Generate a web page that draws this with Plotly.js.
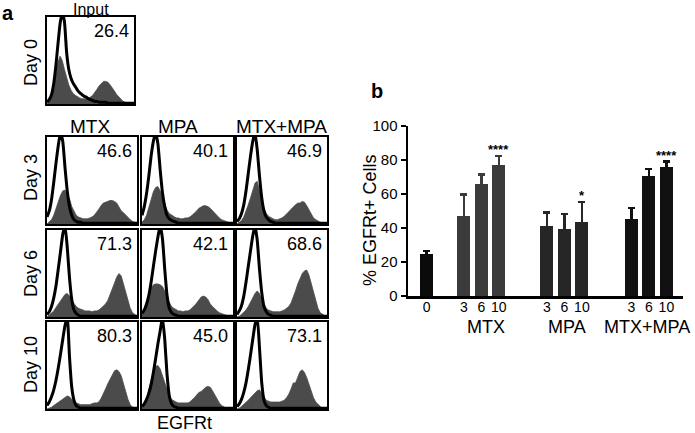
<!DOCTYPE html>
<html>
<head>
<meta charset="utf-8">
<script src="https://cdn.plot.ly/plotly-3.0.1.min.js"></script>
<style>html,body{margin:0;padding:0;background:#fff;}#chart{width:695px;height:433px;}</style>
</head>
<body>
<div id="chart"></div>
<script>
// ---------- Panel a: flow histograms (bin index 0..40 across EGFRt axis) ----------
var bins = [0,1,2,3,4,5,6,7,8,9,10,11,12,13,14,15,16,17,18,19,20,21,22,23,24,25,26,27,28,29,30,31,32,33,34,35,36,37,38,39,40];

var fillInput = [0,0.03,0.08,0.18,0.33,0.48,0.55,0.5,0.4,0.3,0.22,0.16,0.12,0.1,0.08,0.07,0.06,0.06,0.06,0.07,0.08,0.1,0.13,0.17,0.21,0.24,0.26,0.26,0.25,0.22,0.19,0.15,0.11,0.08,0.05,0.03,0.02,0.01,0,0,0];
var lineInput = [0.02,0.05,0.1,0.22,0.42,0.68,0.92,1.05,0.95,0.6,0.4,0.3,0.24,0.2,0.16,0.13,0.11,0.09,0.08,0.06,0.05,0.04,0.03,0.03,0.02,0.02,0.02,0.02,0.01,0.01,0.01,0.01,0.01,0.01,0.01,0.01,0.01,0.01,0.01,0.01,0.01];

var fillD3MTX = [0,0.02,0.05,0.1,0.18,0.26,0.33,0.38,0.39,0.35,0.29,0.2,0.14,0.1,0.08,0.07,0.06,0.06,0.06,0.07,0.08,0.1,0.13,0.17,0.21,0.24,0.25,0.26,0.27,0.27,0.26,0.24,0.2,0.15,0.13,0.1,0.07,0.05,0.03,0.02,0.01];
var lineD3MTX = [0.08,0.15,0.28,0.48,0.7,0.9,1.05,0.95,0.65,0.38,0.2,0.1,0.05,0.03,0.02,0.02,0.01,0.01,0.01,0.01,0.01,0.01,0.01,0.01,0.01,0.01,0.01,0.01,0.01,0.01,0.01,0.01,0.01,0.01,0.01,0.01,0.01,0.01,0.01,0.01,0.01];
var fillD3MPA = [0.02,0.05,0.1,0.18,0.28,0.37,0.42,0.43,0.38,0.3,0.22,0.16,0.12,0.1,0.08,0.07,0.07,0.06,0.06,0.07,0.07,0.08,0.1,0.12,0.15,0.18,0.2,0.21,0.21,0.2,0.18,0.15,0.12,0.09,0.07,0.05,0.04,0.03,0.02,0.01,0.01];
var lineD3MPA = [0.1,0.2,0.35,0.55,0.78,0.95,1.05,0.92,0.62,0.36,0.2,0.1,0.06,0.04,0.03,0.02,0.01,0.01,0.01,0.01,0.01,0.01,0.01,0.01,0.01,0.01,0.01,0.01,0.01,0.01,0.01,0.01,0.01,0.01,0.01,0.01,0.01,0.01,0.01,0.01,0.01];
var fillD3Combo = [0,0.02,0.04,0.08,0.14,0.22,0.3,0.4,0.47,0.49,0.4,0.28,0.18,0.12,0.09,0.07,0.06,0.05,0.05,0.06,0.07,0.09,0.11,0.14,0.17,0.2,0.22,0.24,0.24,0.26,0.25,0.21,0.16,0.11,0.07,0.05,0.03,0.02,0.01,0.01,0];
var lineD3Combo = [0.03,0.06,0.12,0.22,0.38,0.58,0.78,0.95,1.05,0.85,0.55,0.3,0.15,0.08,0.05,0.03,0.02,0.01,0.01,0.01,0.01,0.01,0.01,0.01,0.01,0.01,0.01,0.01,0.01,0.01,0.01,0.01,0.01,0.01,0.01,0.01,0.01,0.01,0.01,0.01,0.01];

var fillD6MTX = [0,0.02,0.04,0.07,0.11,0.15,0.19,0.23,0.26,0.27,0.24,0.19,0.15,0.12,0.1,0.09,0.08,0.07,0.07,0.07,0.06,0.07,0.07,0.08,0.1,0.12,0.15,0.19,0.25,0.32,0.39,0.46,0.5,0.47,0.38,0.27,0.17,0.1,0.05,0.03,0.01];
var lineD6MTX = [0.03,0.06,0.12,0.22,0.36,0.55,0.75,0.95,1.05,0.8,0.45,0.2,0.08,0.04,0.02,0.01,0.01,0.01,0.01,0.01,0.01,0.01,0.01,0.01,0.01,0.01,0.01,0.01,0.01,0.01,0.01,0.01,0.01,0.01,0.01,0.01,0.01,0.01,0.01,0.01,0.01];
var fillD6MPA = [0.03,0.08,0.15,0.25,0.33,0.37,0.38,0.38,0.37,0.35,0.3,0.22,0.16,0.12,0.1,0.08,0.07,0.07,0.06,0.07,0.07,0.08,0.1,0.13,0.16,0.19,0.23,0.24,0.23,0.2,0.15,0.12,0.09,0.07,0.05,0.04,0.03,0.02,0.01,0.01,0];
var lineD6MPA = [0.04,0.08,0.15,0.25,0.4,0.58,0.76,0.92,1.05,0.9,0.55,0.25,0.1,0.05,0.03,0.02,0.01,0.01,0.01,0.01,0.01,0.01,0.01,0.01,0.01,0.01,0.01,0.01,0.01,0.01,0.01,0.01,0.01,0.01,0.01,0.01,0.01,0.01,0.01,0.01,0.01];
var fillD6Combo = [0,0.01,0.03,0.05,0.08,0.12,0.17,0.22,0.27,0.3,0.27,0.2,0.14,0.1,0.08,0.07,0.06,0.06,0.06,0.06,0.07,0.08,0.1,0.12,0.16,0.22,0.3,0.38,0.45,0.5,0.53,0.54,0.48,0.38,0.27,0.17,0.1,0.05,0.03,0.01,0];
var lineD6Combo = [0.03,0.07,0.13,0.24,0.4,0.58,0.76,0.93,1.05,0.88,0.55,0.28,0.12,0.06,0.03,0.02,0.01,0.01,0.01,0.01,0.01,0.01,0.01,0.01,0.01,0.01,0.01,0.01,0.01,0.01,0.01,0.01,0.01,0.01,0.01,0.01,0.01,0.01,0.01,0.01,0.01];

var fillD10MTX = [0,0.01,0.02,0.04,0.06,0.08,0.1,0.12,0.14,0.15,0.14,0.11,0.08,0.07,0.06,0.05,0.05,0.05,0.05,0.05,0.06,0.07,0.07,0.08,0.12,0.17,0.23,0.29,0.34,0.4,0.44,0.45,0.43,0.38,0.3,0.2,0.11,0.05,0.02,0.01,0];
var lineD10MTX = [0.04,0.08,0.14,0.22,0.33,0.47,0.63,0.8,0.96,1.05,0.6,0.25,0.1,0.04,0.02,0.01,0.01,0.01,0.01,0.01,0.01,0.01,0.01,0.01,0.01,0.01,0.01,0.01,0.01,0.01,0.01,0.01,0.01,0.01,0.01,0.01,0.01,0.01,0.01,0.01,0.01];
var fillD10MPA = [0.02,0.06,0.12,0.22,0.33,0.43,0.49,0.5,0.46,0.38,0.3,0.21,0.15,0.11,0.09,0.08,0.07,0.07,0.07,0.07,0.07,0.08,0.1,0.13,0.16,0.19,0.2,0.23,0.25,0.26,0.25,0.21,0.16,0.11,0.07,0.04,0.02,0.01,0.01,0,0];
var lineD10MPA = [0.03,0.06,0.11,0.18,0.28,0.42,0.58,0.75,0.9,1.05,0.8,0.4,0.15,0.06,0.03,0.02,0.01,0.01,0.01,0.01,0.01,0.01,0.01,0.01,0.01,0.01,0.01,0.01,0.01,0.01,0.01,0.01,0.01,0.01,0.01,0.01,0.01,0.01,0.01,0.01,0.01];
var fillD10Combo = [0,0.01,0.03,0.05,0.07,0.1,0.13,0.16,0.19,0.21,0.22,0.18,0.13,0.1,0.09,0.08,0.08,0.08,0.08,0.08,0.09,0.1,0.13,0.17,0.23,0.3,0.3,0.37,0.43,0.45,0.42,0.36,0.28,0.2,0.13,0.08,0.05,0.03,0.01,0.01,0];
var lineD10Combo = [0.03,0.06,0.11,0.19,0.3,0.45,0.62,0.8,0.97,1.05,0.7,0.3,0.1,0.04,0.02,0.01,0.01,0.01,0.01,0.01,0.01,0.01,0.01,0.01,0.01,0.01,0.01,0.01,0.01,0.01,0.01,0.01,0.01,0.01,0.01,0.01,0.01,0.01,0.01,0.01,0.01];

var percentLabels = ["26.4","46.6","40.1","46.9","71.3","42.1","68.6","80.3","45.0","73.1"];
var columnLabels = ["MTX","MPA","MTX+MPA"];
var rowLabels = ["Day 0","Day 3","Day 6","Day 10"];

// ---------- Panel b: bar chart ----------
var groupNames = ["MTX","MPA","MTX+MPA"];
var dayTicks = ["3","6","10"];
var day0Value = [24.5];
var day0Err = [2.0];
var mtxValues = [47.2, 65.9, 76.9];
var mtxErr = [12.6, 5.5, 5.5];
var mpaValues = [41.2, 39.4, 43.5];
var mpaErr = [7.8, 8.8, 11.8];
var comboValues = [45.1, 70.8, 76.1];
var comboErr = [6.7, 3.9, 2.9];
var sigMarks = ["****", "*", "****"];

// ---------- layout helpers (pixel boxes) ----------
var W = 695, H = 433;
function xd(x0, x1){ return [x0/W, x1/W]; }
function yd(y0, y1){ return [(H-y1)/H, (H-y0)/H]; }
function px(x){ return x/W; }
function py(y){ return (H-y)/H; }

var colX = [[47,137],[142,233],[237,327]];
var rowY = [[137,224],[230,317],[322,409]];
var panels = [
  {box:[47,134,17,104], fill:fillInput, line:lineInput},
  {box:[colX[0][0],colX[0][1],rowY[0][0],rowY[0][1]], fill:fillD3MTX, line:lineD3MTX},
  {box:[colX[1][0],colX[1][1],rowY[0][0],rowY[0][1]], fill:fillD3MPA, line:lineD3MPA},
  {box:[colX[2][0],colX[2][1],rowY[0][0],rowY[0][1]], fill:fillD3Combo, line:lineD3Combo},
  {box:[colX[0][0],colX[0][1],rowY[1][0],rowY[1][1]], fill:fillD6MTX, line:lineD6MTX},
  {box:[colX[1][0],colX[1][1],rowY[1][0],rowY[1][1]], fill:fillD6MPA, line:lineD6MPA},
  {box:[colX[2][0],colX[2][1],rowY[1][0],rowY[1][1]], fill:fillD6Combo, line:lineD6Combo},
  {box:[colX[0][0],colX[0][1],rowY[2][0],rowY[2][1]], fill:fillD10MTX, line:lineD10MTX},
  {box:[colX[1][0],colX[1][1],rowY[2][0],rowY[2][1]], fill:fillD10MPA, line:lineD10MPA},
  {box:[colX[2][0],colX[2][1],rowY[2][0],rowY[2][1]], fill:fillD10Combo, line:lineD10Combo}
];

var FONT = "Liberation Sans, Arial, Helvetica, sans-serif";
var data = [];
var layout = {
  width: W, height: H,
  margin: {l:0, r:0, t:0, b:0},
  paper_bgcolor: "#fff", plot_bgcolor: "rgba(0,0,0,0)",
  showlegend: false,
  font: {family: FONT, color: "#000"},
  annotations: [],
  bargap: 0
};
var ann = layout.annotations;
function label(x, y, text, size, extra){
  var a = {xref:"paper", yref:"paper", x:px(x), y:py(y), xanchor:"center", yanchor:"middle",
    text:text, showarrow:false, font:{size:size, family:FONT, color:"#000"}};
  if (extra) for (var k in extra) a[k] = extra[k];
  ann.push(a);
}

panels.forEach(function(p, i){
  var n = i + 1;
  var xa = n === 1 ? "x" : "x" + n, ya = n === 1 ? "y" : "y" + n;
  var xk = n === 1 ? "xaxis" : "xaxis" + n, yk = n === 1 ? "yaxis" : "yaxis" + n;
  data.push({x: bins, y: p.fill, xaxis: xa, yaxis: ya, type: "scatter", mode: "lines",
    fill: "tozeroy", fillcolor: "#4b4b4b", line: {color: "#4b4b4b", width: 0.8, shape: "linear"}, hoverinfo: "skip"});
  data.push({x: bins, y: p.line, xaxis: xa, yaxis: ya, type: "scatter", mode: "lines",
    line: {color: "#000", width: 3, shape: "spline", smoothing: 0.5}, hoverinfo: "skip"});
  layout[xk] = {domain: xd(p.box[0], p.box[1]), range: [0, 40], showline: true, mirror: true, linewidth: 2, linecolor: "#000",
    showgrid: false, zeroline: false, showticklabels: false, ticks: "", anchor: ya, fixedrange: true};
  layout[yk] = {domain: yd(p.box[2], p.box[3]), range: [0, 1], showline: true, mirror: true, linewidth: 2, linecolor: "#000",
    showgrid: false, zeroline: false, showticklabels: false, ticks: "", anchor: xa, fixedrange: true};
  ann.push({xref: "paper", yref: "paper", x: px(p.box[1]-3), y: py(p.box[2]+2),
    xanchor: "right", yanchor: "top", text: percentLabels[i], showarrow: false, font: {size: 18, family: FONT, color:"#000"}});
});

// titles of panel a
label(8, 13, "<b>a</b>", 20);
label(91, 9, "Input", 16);
var colCenters = [90, 178, 281];
columnLabels.forEach(function(t, i){ label(colCenters[i], 127, t, 19); });
var rowCenters = [63, 178, 274, 365];
rowLabels.forEach(function(t, i){ label(31, rowCenters[i], t, 18, {textangle:-90}); });
label(184, 423, "EGFRt", 18);

// ---------- panel b ----------
var groupStart = [2.12, 6.87, 11.7];
var barW = 0.74;
var groups = [
  {vals: mtxValues, err: mtxErr, color: "#3b3b3b"},
  {vals: mpaValues, err: mpaErr, color: "#262626"},
  {vals: comboValues, err: comboErr, color: "#111111"}
];
data.push({type:"bar", x:[0], y:day0Value, width:barW, xaxis:"x11", yaxis:"y11",
  marker:{color:"#0b0b0b", line:{width:0}},
  error_y:{type:"data", array:day0Err, symmetric:true, color:"#0b0b0b", thickness:2.5, width:3.5}, hoverinfo:"skip"});
var tickvals = [0], ticktext = ["0"];
var groupLabelX = [486, 567, 647];
groups.forEach(function(g, gi){
  var xs = g.vals.map(function(_, k){ return groupStart[gi] + k; });
  xs.forEach(function(v, k){ tickvals.push(v); ticktext.push(dayTicks[k]); });
  data.push({type:"bar", x:xs, y:g.vals, width:barW, xaxis:"x11", yaxis:"y11",
    marker:{color:g.color, line:{width:0}},
    error_y:{type:"data", array:g.err, symmetric:true, color:g.color, thickness:2.5, width:3.5}, hoverinfo:"skip"});
  label(groupLabelX[gi], 327, groupNames[gi], 18);
  ann.push({xref:"x11", yref:"y11", x:xs[2], y:g.vals[2] + g.err[2], yshift:-3, xanchor:"center", yanchor:"bottom",
    text:"<b>" + sigMarks[gi] + "</b>", showarrow:false, font:{size:13, family:FONT, color:"#000"}});
});

layout.xaxis11 = {domain: xd(408, 683), range: [-1.07, 14.65], anchor: "y11", showline: true, linewidth: 2.5, linecolor: "#000",
  showgrid: false, zeroline: false, ticks: "", tickmode: "array", tickvals: tickvals, ticktext: ticktext,
  ticklabelstandoff: -3, tickfont: {size: 14, family: FONT, color:"#000"}, fixedrange: true};
layout.yaxis11 = {domain: yd(126, 296), range: [0, 100], anchor: "x11", showline: true, linewidth: 2.5, linecolor: "#000",
  showgrid: false, zeroline: false, ticks: "outside", ticklen: 5, tickwidth: 2.5, tickcolor: "#000",
  tickvals: [0,20,40,60,80,100], tickfont: {size: 15, family: FONT, color:"#000"}, fixedrange: true};
label(370, 220, "% EGFRt+ Cells", 18, {textangle:-90});
label(377, 91, "<b>b</b>", 20);

Plotly.newPlot("chart", data, layout, {staticPlot: true, displayModeBar: false});
</script>
</body>
</html>
